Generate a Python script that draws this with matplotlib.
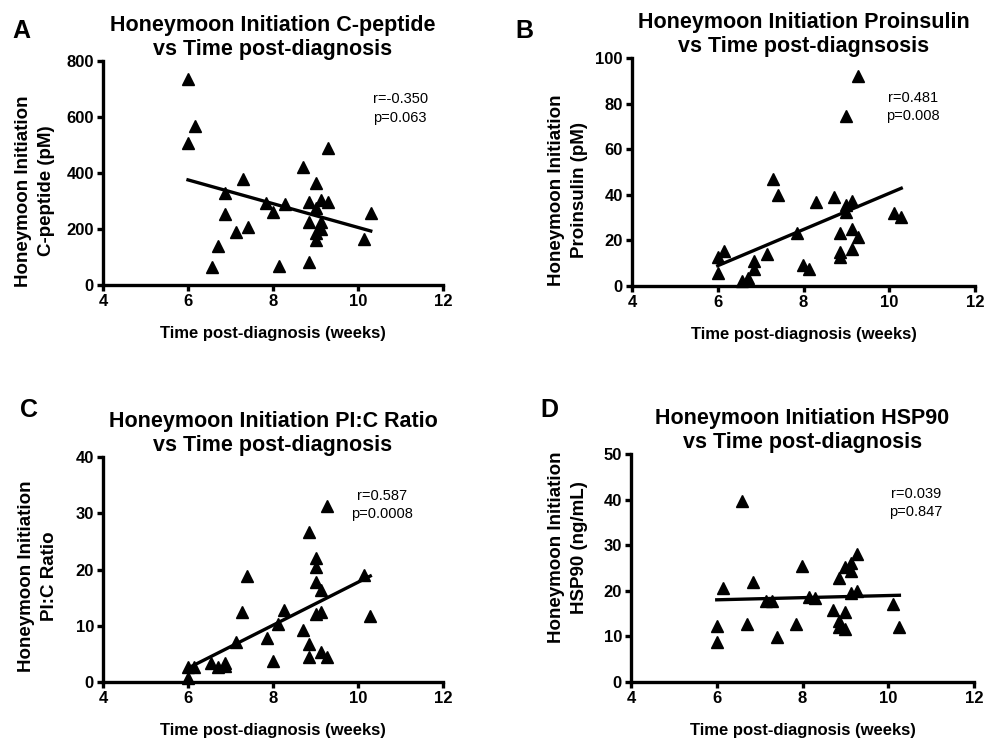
import numpy as np
import matplotlib
matplotlib.use("Agg")
from matplotlib import pyplot as plt

plt.rcParams['font.family'] = ['Liberation Sans', 'DejaVu Sans']

# panel A: C-peptide
x_a = [6.0, 6.16, 6.0, 9.29, 8.71, 7.29, 9.0, 6.86, 9.14, 9.29, 8.85, 7.84, 8.29, 9.0, 8.0,
       10.3, 6.86, 8.85, 9.14, 7.41, 9.14, 7.14, 9.0, 9.0, 10.14, 6.71, 8.85, 8.14, 6.57]
y_a = [734, 568, 506, 488, 422, 377, 363, 327, 303, 295, 295, 292, 289, 274, 262,
       256, 252, 226, 225, 208, 199, 190, 184, 161, 164, 140, 83, 68, 63]

# panel B: proinsulin
x_b = [9.27, 8.99, 7.28, 7.40, 8.70, 9.13, 8.29, 8.99, 8.99, 10.12, 10.28, 9.13, 7.85, 8.84,
       9.27, 6.15, 9.13, 8.84, 6.0, 7.14, 8.84, 6.85, 7.99, 8.13, 6.85, 6.0, 6.71, 6.57]
y_b = [91.9, 74.4, 46.8, 39.7, 39.2, 37.5, 37.0, 35.6, 32.6, 31.9, 30.4, 25.0, 23.4, 23.1,
       21.7, 15.5, 16.1, 15.1, 12.9, 14.1, 12.6, 11.1, 9.2, 7.5, 7.5, 5.9, 3.6, 2.2]

# panel C: PI:C ratio
x_c = [9.28, 8.85, 9.0, 9.0, 7.39, 10.13, 9.0, 9.13, 8.27, 7.28, 9.13, 9.0, 10.29, 8.12, 8.70,
       7.86, 7.14, 8.85, 9.13, 9.28, 8.85, 7.99, 6.55, 6.86, 6.86, 6.70, 6.0, 6.13, 6.0]
y_c = [31.3, 26.7, 22.0, 20.5, 18.8, 19.1, 17.7, 16.4, 12.8, 12.4, 12.4, 12.1, 11.8, 10.3, 9.2,
       7.8, 7.1, 6.7, 5.3, 4.4, 4.4, 3.8, 3.4, 3.4, 2.8, 2.6, 2.6, 2.6, 0.7]

# panel D: HSP90
x_d = [6.58, 9.26, 9.13, 8.98, 7.98, 9.13, 8.84, 6.85, 6.14, 9.26, 9.13, 8.14, 8.29, 7.14,
       7.28, 10.10, 8.70, 8.98, 8.84, 6.71, 7.85, 6.0, 8.84, 10.26, 8.98, 7.40, 6.0]
y_d = [39.8, 28.0, 26.0, 25.3, 25.4, 24.3, 22.7, 22.0, 20.7, 20.0, 19.6, 18.7, 18.5, 17.8,
       17.8, 17.0, 15.8, 15.4, 13.4, 12.7, 12.8, 12.3, 12.1, 12.1, 11.6, 9.8, 8.8]

panels = [
    dict(x=x_a, y=y_a, letter='A', ymax=800, ystep=200,
         title='Honeymoon Initiation C-peptide\nvs Time post-diagnosis',
         ylabel='Honeymoon Initiation\nC-peptide (pM)', stats='r=-0.350\np=0.063',
         rect=[103, 61, 443, 285], ylab=(-0.141, 0.42), st=(0.874, 0.86), let=(12, 19)),
    dict(x=x_b, y=y_b, letter='B', ymax=100, ystep=20,
         title='Honeymoon Initiation Proinsulin\nvs Time post-diagnsosis',
         ylabel='Honeymoon Initiation\nProinsulin (pM)', stats='r=0.481\np=0.008',
         rect=[632, 58, 975, 286], ylab=(-0.128, 0.42), st=(0.82, 0.855), let=(515, 19)),
    dict(x=x_c, y=y_c, letter='C', ymax=40, ystep=10,
         title='Honeymoon Initiation PI:C Ratio\nvs Time post-diagnosis',
         ylabel='Honeymoon Initiation\nPI:C Ratio', stats='r=0.587\np=0.0008',
         rect=[103, 457, 443, 682], ylab=(-0.132, 0.47), st=(0.82, 0.858), let=(20, 398)),
    dict(x=x_d, y=y_d, letter='D', ymax=50, ystep=10,
         title='Honeymoon Initiation HSP90\nvs Time post-diagnosis',
         ylabel='Honeymoon Initiation\nHSP90 (ng/mL)', stats='r=0.039\np=0.847',
         rect=[631, 454, 974, 682], ylab=(-0.125, 0.59), st=(0.83, 0.855), let=(540, 398)),
]

W, H = 984, 741
fig = plt.figure(figsize=(W / 100, H / 100), dpi=100)

for p in panels:
    l, t, r, b = p['rect']
    ax = fig.add_axes([l / W, 1 - b / H, (r - l) / W, (b - t) / H])
    x = np.array(p['x'])
    y = np.array(p['y'])
    ax.plot(x, y, linestyle='none', marker='^', markersize=8, color='black', clip_on=False)
    k, c = np.polyfit(x, y, 1)
    xl = np.array([x.min(), x.max()])
    ax.plot(xl, k * xl + c, color='black', linewidth=2.4)

    ax.set_xlim(4, 12)
    ax.set_ylim(0, p['ymax'])
    ax.set_xticks(range(4, 13, 2))
    ax.set_yticks(np.arange(0, p['ymax'] + 1, p['ystep']))
    for s in ['top', 'right']:
        ax.spines[s].set_visible(False)
    for s in ['left', 'bottom']:
        ax.spines[s].set_linewidth(2.4)
    ax.tick_params(direction='out', length=4.5, width=2.4, labelsize=12, pad=2)
    for lab in ax.get_xticklabels() + ax.get_yticklabels():
        lab.set_fontweight('bold')

    ax.set_title(p['title'], fontsize=15.5, fontweight='bold', pad=4, linespacing=1.2)
    ax.set_ylabel(p['ylabel'], fontsize=13.5, fontweight='bold', linespacing=1.45)
    ax.yaxis.set_label_coords(*p['ylab'])
    ax.set_xlabel('Time post-diagnosis (weeks)', fontsize=12, fontweight='bold', labelpad=12)
    ax.text(p['st'][0], p['st'][1], p['stats'], transform=ax.transAxes, fontsize=10.5,
            ha='center', va='top', multialignment='center', linespacing=1.4)
    fig.text(p['let'][0] / W, 1 - p['let'][1] / H, p['letter'], fontsize=18,
             fontweight='bold', ha='left', va='top')

fig.savefig('out.png', dpi=100)
